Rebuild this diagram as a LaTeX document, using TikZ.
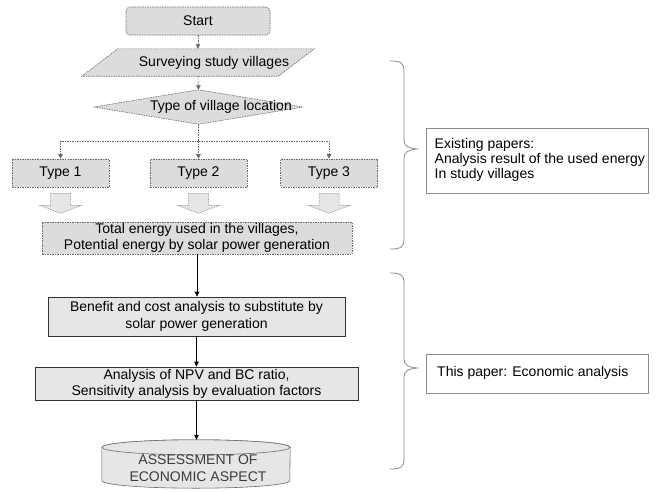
\documentclass[tikz,border=0pt]{standalone}
\usepackage{fontspec}
\setmainfont{Liberation Sans}
\usetikzlibrary{calc,arrows.meta,shadows}
\definecolor{lgray}{HTML}{DCDCDC}
\definecolor{agray}{HTML}{E6E6E6}
\definecolor{dgray}{HTML}{6A6A6A}
\definecolor{bgray}{HTML}{8A8A8A}
\definecolor{tgray}{HTML}{3C3C3C}
\begin{document}
\begin{tikzpicture}[x=1pt,y=-1pt,
  every node/.style={font=\fontsize{14pt}{16pt}\selectfont, inner sep=0pt},
  dbox/.style={draw=dgray, dash pattern=on 1.5pt off 1pt, line width=0.6pt, fill=lgray},
  dline/.style={draw=dgray, dash pattern=on 1.5pt off 1pt, line width=0.6pt},
  darrow/.style={dline, -{Triangle[length=4.5pt,width=4.5pt]}},
  barrow/.style={draw=bgray, dash pattern=on 1.5pt off 1pt, line width=0.5pt, fill=agray},
  sbox/.style={draw=black!80, line width=0.6pt, fill=agray,
    drop shadow={shadow xshift=1.2pt, shadow yshift=-1.2pt, fill=gray!70, opacity=1}},
  sarrow/.style={draw=black, line width=0.7pt, -{Triangle[length=5pt,width=4.5pt]}},
  rbox/.style={draw=bgray, line width=0.6pt},
  bracestyle/.style={draw=bgray, line width=0.8pt}
]
\useasboundingbox (0,0) rectangle (662,491);

% Start
\node[dbox, rounded corners=4pt, minimum width=144pt, minimum height=28pt] (start) at (198,21) {Start};

% Surveying (parallelogram)
\node[minimum width=196pt, minimum height=27pt] (surv) at (198,62.5) {};
\path[dbox] ($(surv.north west)+(18,0)$) -- ($(surv.north east)+(18,0)$)
  -- ($(surv.south east)+(-18,0)$) -- ($(surv.south west)+(-18,0)$) -- cycle;
\node (survt) at (214,63) {Surveying study villages};

% Diamond
\node[minimum width=209pt, minimum height=34pt] (loc) at (198.5,107) {};
\path[dbox] (loc.west) -- (loc.north) -- (loc.east) -- (loc.south) -- cycle;
\node (loct) at (221,107) {Type of village location};

\draw[darrow] (start.south) -- (surv.north);
\draw[darrow] (surv.south) -- (loc.north);

% Types
\node[dbox, minimum width=97pt, minimum height=28pt] (t1) at (60.5,173) {Type 1};
\node[dbox, minimum width=97pt, minimum height=28pt] (t2) at (198.5,173) {Type 2};
\node[dbox, minimum width=97pt, minimum height=28pt] (t3) at (329,173) {Type 3};

\draw[dline] (loc.south) -- ($(loc.south)+(0,17)$) coordinate (j);
\draw[darrow] (j) -| (t1.north);
\draw[darrow] (j) -- (t2.north);
\draw[darrow] (j) -| (t3.north);

% Block arrows
\foreach \n in {t1,t2,t3}{
  \path[barrow] ($(\n.south)+(-10,6)$) -- ++(20,0) -- ++(0,12) -- ++(11,0)
    -- ++(-21,8) -- ++(-21,-8) -- ++(11,0) -- cycle;
}

% Total energy
\node[dbox, minimum width=310pt, minimum height=32pt, align=center] (tot) at (197,238)
  {Total energy used in the villages,\\Potential energy by solar power generation};

% Benefit
\node[sbox, minimum width=297pt, minimum height=39pt, align=center,
  font=\fontsize{14pt}{17pt}\selectfont] (ben) at (196.5,316.5)
  {Benefit and cost analysis to substitute by\\solar power generation};

% NPV
\node[sbox, minimum width=323pt, minimum height=33pt, align=center] (npv) at (196.5,383.5)
  {Analysis of NPV and BC ratio,\\Sensitivity analysis by evaluation factors};

% Cylinder
\node[minimum width=188pt, minimum height=48pt] (asm) at (196,464) {};
\path[draw=dgray, line width=0.6pt, fill=agray]
  ($(asm.north west)+(0,7.5)$) -- ($(asm.south west)+(0,-7.5)$)
  arc[start angle=180, end angle=360, x radius=94pt, y radius=7.5pt]
  -- ($(asm.north east)+(0,7.5)$)
  arc[start angle=0, end angle=180, x radius=94pt, y radius=7.5pt] -- cycle;
\draw[draw=dgray, line width=0.6pt, fill=agray] ($(asm.north)+(0,7.5)$) ellipse[x radius=94pt, y radius=7.5pt];
\node[align=center, text=tgray, font=\fontsize{14pt}{17pt}\selectfont] (asmt) at (198,468.5)
  {ASSESSMENT OF\\ECONOMIC ASPECT};

\draw[sarrow] (tot.south) -- (tot.south |- ben.north);
\draw[sarrow] (ben.south) -- (ben.south |- npv.north);
\draw[sarrow] (npv.south) -- (npv.south |- asm.north);

% Right side boxes
\node[rbox, minimum width=222pt, minimum height=65pt] (ex) at (537,160.5) {};
\node[anchor=west, align=left, font=\fontsize{14pt}{15pt}\selectfont] (ext) at (434.5,160)
  {Existing papers:\\Analysis result of the used energy\\In study villages};

\node[rbox, minimum width=222pt, minimum height=39pt] (th) at (537,373.5) {};
\node[anchor=west] (tht) at (437,373) {This paper: Economic analysis};

% Braces
\draw[bracestyle] (390,61) .. controls (401,61) and (404,63) .. (404,71)
  -- (404,140) .. controls (404,146) and (408,148) .. (417,149)
  .. controls (408,150) and (404,152) .. (404,158)
  -- (404,239) .. controls (404,247) and (401,249) .. (390,249);
\draw[bracestyle] (390,273) .. controls (401,273) and (404,275) .. (404,283)
  -- (404,359) .. controls (404,365) and (408,367) .. (417,368)
  .. controls (408,369) and (404,371) .. (404,377)
  -- (404,459) .. controls (404,467) and (401,469) .. (390,469);
\end{tikzpicture}
\end{document}
